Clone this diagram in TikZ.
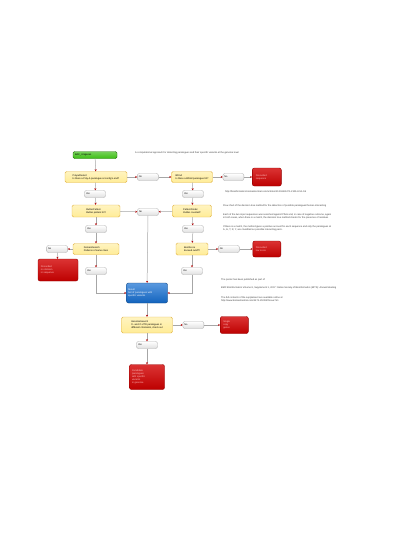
\documentclass[tikz,border=0pt]{standalone}
\usepackage{fontspec}
\setsansfont{Liberation Sans}
\usepackage{tikz}
\usetikzlibrary{positioning,arrows.meta,calc}
\definecolor{verdeini}{RGB}{60,190,20}
\definecolor{amarillo}{RGB}{255,236,150}
\definecolor{bordeam}{RGB}{225,180,70}
\definecolor{rojodesc}{RGB}{210,0,0}
\definecolor{azulres}{RGB}{20,110,210}
\definecolor{gristexto}{RGB}{60,60,60}
\newcommand{\diminuta}{\fontsize{2.4}{2.9}\selectfont\sffamily}

\begin{document}
\begin{tikzpicture}[x=1pt,y=-1pt,
  inicio/.style={draw=verdeini!60!black, top color=verdeini!70, bottom color=verdeini,
                 rounded corners=1.5pt, minimum width=44pt, minimum height=7pt,
                 inner sep=0.5pt, text width=40pt, align=left, font=\diminuta},
  pregunta/.style={draw=bordeam, top color=amarillo!60, bottom color=amarillo,
                   rounded corners=1.5pt, minimum height=11pt, inner sep=1pt,
                   align=left, font=\diminuta},
  sino/.style={draw=gray!60, top color=white, bottom color=gray!25,
               rounded corners=2pt, minimum width=21pt, minimum height=7pt,
               inner sep=0.5pt, text width=18pt, align=left, font=\diminuta},
  descarte/.style={draw=rojodesc!70!black, top color=rojodesc!80, bottom color=rojodesc!90!black,
                   rounded corners=2pt, inner sep=1pt, text width=22pt, align=left,
                   font=\diminuta, text=red!25},
  resultado/.style={draw=azulres!60!black, top color=azulres!70, bottom color=azulres!90!black,
                    rounded corners=2pt, minimum width=41pt, minimum height=20pt,
                    inner sep=1pt, text width=38pt, align=left, font=\diminuta, text=white},
  nota/.style={anchor=west, inner sep=0pt, align=left, font=\diminuta, text=gristexto},
  flecha/.style={-{Stealth[length=2pt, width=2pt, color=red!70!black]}, gray!70, line width=0.5pt}]
  \useasboundingbox (0,0) rectangle (400,536);

  % columna izquierda
  \node[inicio] (bac) at (95,155) {BAC\_Unigenes};
  \node[pregunta, minimum width=62pt] (polyad) at (96,177)
    {PolyadSelect\\Is there a Poly-A paralogue at contig's end?};
  \node[sino] (si1) at (95,194) {Yes};
  \node[pregunta, minimum width=48pt, minimum height=12pt] (outlier) at (96,211)
    {OutlierPattern\\Outlier pattern hit?};
  \node[sino] (si3) at (96,229) {Yes};
  \node[pregunta, minimum width=46pt] (domain) at (96,249)
    {DomainSearch\\Patterns of same class};
  \node[sino, left=5pt of domain] (no3) {No};
  \node[descarte, minimum width=40pt, minimum height=22pt, text width=34pt] (rojoizq) at (58,270)
    {Discarded\\no domain\\in sequence};
  \node[sino] (si5) at (96,271) {Yes};

  % columna derecha
  \node[sino, right=10pt of polyad] (no1) {No};
  \node[pregunta, minimum width=41pt] (bfind) at (192,177)
    {BFind\\Is there a BFind paralogue hit?};
  \node[sino, right=10pt of bfind] (no2) {No};
  \node[descarte, minimum width=29pt, minimum height=18pt, right=8pt of no2] (rojo1)
    {Discarded\\sequence};
  \node[sino] (si2) at (193,194) {Yes};
  \node[pregunta, minimum width=39pt, minimum height=12pt] (patron) at (192,211)
    {PatternFinder\\Outlier counted?};
  \node[sino] (si4) at (193,229) {Yes};
  \node[pregunta, minimum width=32pt, minimum height=12pt] (mejor) at (192,249)
    {BestScore\\Exceed cutoff?};
  \node[sino, right=10pt of mejor] (no4) {No};
  \node[descarte, minimum width=28pt, minimum height=16pt, right=13pt of no4] (rojoder)
    {Discarded\\low score};
  \node[sino] (si6) at (192,271) {Yes};

  % centro
  \node[sino] (noM) at (148,212) {No};
  \node[resultado] (final) at (147,293)
    {Result\\Set of paralogues with\\specific variants};
  \node[pregunta, minimum width=51pt, minimum height=16pt] (genoma) at (147,325)
    {GenomeSearch\\5'- and 3'-UTR paralogues in\\different chromatin, check out};
  \node[sino, right=10pt of genoma] (no5) {No};
  \node[descarte, minimum width=28pt, minimum height=17pt, right=16pt of no5] (rojo5)
    {Single\\copy\\genes};
  \node[sino] (si7) at (147,345) {Yes};
  \node[descarte, minimum width=35pt, minimum height=25pt, text width=30pt] (rojofin) at (147,377)
    {Candidate\\paralogues\\with specific\\variants\\in genome};

  % textos
  \node[nota] (titulo) at (135,153)
    {A computational approach for detecting paralogues and their specific variants at the genome level};
  \node[nota] (url) at (225,192)
    {http://bioinformatics.biomedcentral.com/articles/10.1186/1471-2105-8-S1-S5};
  \node[nota] (leyenda) at (223,206)
    {Flow chart of the decision tree method for the detection of possible paralogues/homeo interacting};
  \node[nota] (cada) at (223,216)
    {Each of the two input sequences was searched against Pfam and, in case of negative outcome, again\\
     in both cases, when there is a match, the decision tree method checks for the presence of residues};
  \node[nota] (match) at (223,228)
    {If there is a match, the method gives a positive account for each sequence and only the paralogues at\\
     A, G, T, R, Y, are classified as possible interacting pairs.};
  \node[nota] (poster) at (221,280) {The poster has been published as part of};
  \node[nota] (bmc) at (221,288)
    {BMC Bioinformatics Volume 8, Supplement 1, 2007: Italian Society of Bioinformatics (BITS): Annual Meeting};
  \node[nota] (suple) at (221,299)
    {The full contents of the supplement are available online at\\
     http://www.biomedcentral.com/1471-2105/8?issue=S1};

  % conectores
  \draw[flecha] (bac) -- (polyad);
  \draw[flecha] (polyad) -- (no1);
  \draw[flecha] (no1) -- (bfind);
  \draw[flecha] (bfind) -- (no2);
  \draw[flecha] (no2) -- (rojo1);
  \draw[flecha] (polyad) -- (si1);
  \draw[flecha] (si1) -- (outlier);
  \draw[flecha] (bfind) -- (si2);
  \draw[flecha] (si2) -- (patron);
  \draw[flecha] (outlier) -- (noM);
  \draw[flecha] (patron) -- (noM);
  \draw[flecha] (noM) -- (final);
  \draw[flecha] (outlier) -- (si3);
  \draw[flecha] (si3) -- (domain);
  \draw[flecha] (patron) -- (si4);
  \draw[flecha] (si4) -- (mejor);
  \draw[flecha] (domain) -- (no3);
  \draw[flecha] (no3) -- (rojoizq);
  \draw[flecha] (domain) -- (si5);
  \draw[flecha] (si5) |- (final);
  \draw[flecha] (mejor) -- (no4);
  \draw[flecha] (no4) -- (rojoder);
  \draw[flecha] (mejor) -- (si6);
  \draw[flecha] (si6) |- (final);
  \draw[flecha] (final) -- (genoma);
  \draw[flecha] (genoma) -- (no5);
  \draw[flecha] (no5) -- (rojo5);
  \draw[flecha] (genoma) -- (si7);
  \draw[flecha] (si7) -- (rojofin);
\end{tikzpicture}
\end{document}
